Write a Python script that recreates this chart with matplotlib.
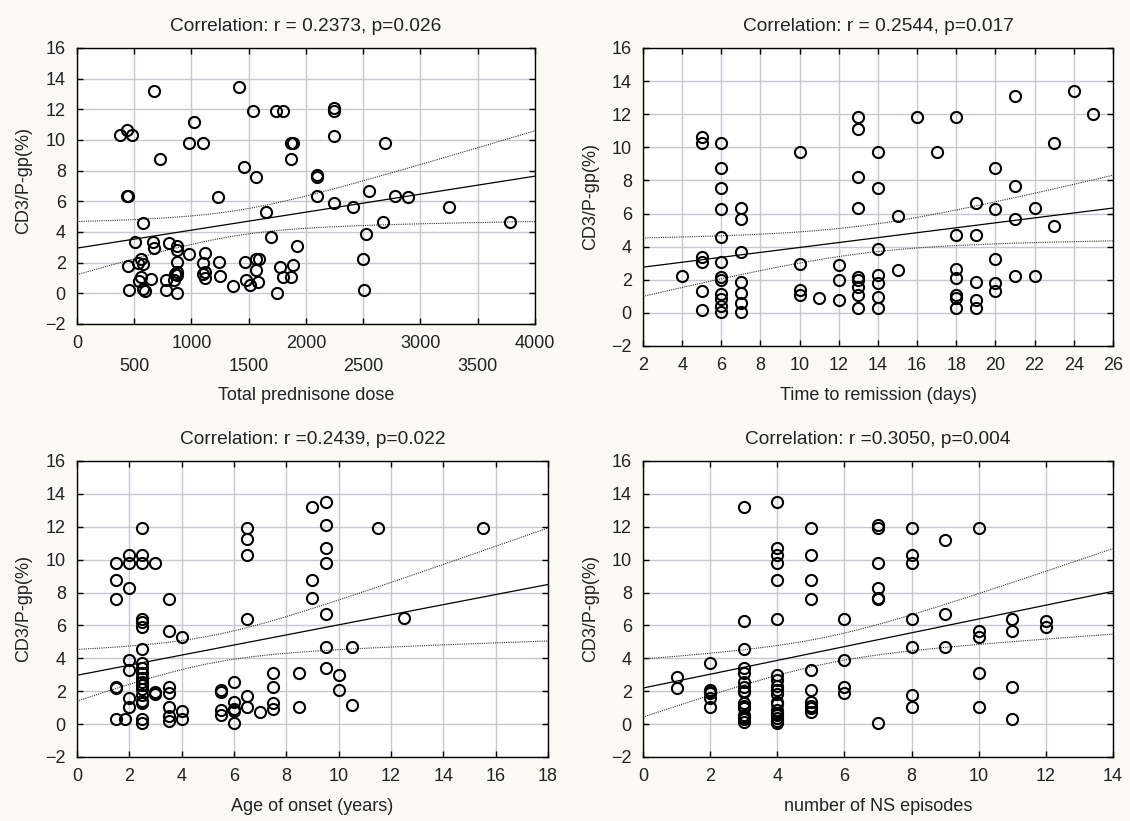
#!/usr/bin/python3
# four scatter plots of CD3/P-gp(%) against clinical variables, with fit and 95% bands
from matplotlib import pyplot as plt
import numpy as np

plt.rcParams['font.family'] = ['Liberation Sans', 'DejaVu Sans']
plt.rcParams['font.size'] = 13

# panel 1: total prednisone dose
pred_dose = [675, 1418, 1537, 1738, 1796, 2242, 2247, 2247, 440, 376, 477, 1019,
             981, 1098, 1866, 1889, 2690, 725, 1866, 1456, 1561, 2093, 2096, 440,
             449, 1229, 2093, 2550, 2777, 2888, 2247, 2408, 3246, 1648,
             576, 2675, 3782, 2524, 507, 667, 672, 806, 870, 870, 1694, 1918,
             981, 1118, 556, 536, 579, 445, 876, 1103, 1240, 1467, 1561, 1590,
             1561, 1773, 1889, 2498, 1103, 1118, 1118, 870, 856, 876, 556, 544,
             649, 777, 850, 1252, 1479, 1511, 1578, 1796, 1869, 1360, 457, 573,
             594, 777, 870, 1747, 2507]
pred_cd3 = [13.16, 13.46, 11.87, 11.87, 11.87, 12.07, 11.87, 10.25, 10.67, 10.3, 10.3, 11.17,
            9.77, 9.77, 9.77, 9.77, 9.77, 8.79, 8.79, 8.26, 7.59, 7.69, 7.56, 6.36,
            6.36, 6.27, 6.36, 6.69, 6.36, 6.27, 5.86, 5.66, 5.66, 5.33,
            4.57, 4.66, 4.66, 3.85, 3.34, 3.34, 2.93, 3.26, 3.08, 2.82, 3.67, 3.08,
            2.56, 2.64, 2.23, 1.95, 1.88, 1.75, 2.03, 1.95, 2.03, 2.03, 2.23, 2.23,
            1.53, 1.73, 1.86, 2.23, 1.29, 1.40, 1.03, 1.40, 1.25, 1.22, 1.07, 0.81,
            0.94, 0.85, 0.85, 1.11, 0.85, 0.55, 0.72, 1.05, 1.05, 0.46, 0.24, 0.28,
            0.13, 0.24, 0.05, 0.05, 0.24]

# panel 2: time to remission (days)
remission_days = [4,
                  5, 5, 5, 5, 5, 5,
                  6, 6, 6, 6, 6, 6, 6, 6, 6, 6, 6, 6,
                  7, 7, 7, 7, 7, 7, 7,
                  10, 10, 10, 10,
                  11,
                  12, 12, 12,
                  13, 13, 13, 13, 13, 13, 13, 13, 13,
                  14, 14, 14, 14, 14, 14, 14,
                  15, 15,
                  16, 17,
                  18, 18, 18, 18, 18, 18, 18,
                  19, 19, 19, 19, 19,
                  20, 20, 20, 20, 20,
                  21, 21, 21, 21,
                  22, 22,
                  23, 23,
                  24, 25]
remission_cd3 = [2.25,
                 10.64, 10.24, 3.36, 3.07, 1.3, 0.18,
                 10.24, 8.75, 7.56, 6.27, 4.58, 3.07, 2.15, 1.99, 1.12, 0.84, 0.42, 0.08,
                 6.35, 5.65, 3.66, 1.87, 1.18, 0.6, 0.08,
                 9.74, 2.97, 1.38, 1.06,
                 0.88,
                 2.87, 1.97, 0.78,
                 11.85, 11.12, 8.23, 6.35, 2.17, 1.99, 1.58, 1.06, 0.28,
                 9.74, 7.56, 3.88, 2.27, 1.79, 0.96, 0.28,
                 5.88, 2.59,
                 11.85, 9.74,
                 11.85, 4.68, 2.67, 2.09, 1.06, 0.88, 0.28,
                 6.66, 4.68, 1.87, 0.78, 0.28,
                 8.75, 6.27, 3.27, 1.79, 1.3,
                 13.12, 7.66, 5.65, 2.25,
                 6.35, 2.25,
                 10.24, 5.27,
                 13.42, 12.03]

# panel 3: age of onset (years)
onset_age = [9.0, 9.5, 2.5, 6.5, 9.5, 11.5, 15.5, 6.5, 6.5, 9.5, 9.5, 2.0, 2.5,
             1.5, 2.0, 2.5, 3.0, 1.5, 2.0, 1.5, 3.5, 9.0, 9.0, 9.5, 12.5,
             2.5, 2.5, 2.5, 6.5, 3.5, 4.0, 2.5, 9.5, 10.5, 2.0, 2.0,
             2.5, 2.5, 2.5, 2.5, 2.5, 1.5, 1.5, 2.5, 2.5, 2.5, 2.5, 2.5,
             3.0, 3.0, 2.0, 2.0, 1.5, 1.85, 2.5, 2.5, 3.5, 3.5, 3.5, 3.5, 3.5,
             4.0, 4.0, 5.5, 5.5, 5.5, 5.5, 6.0, 6.0, 6.0, 6.0, 6.0, 6.5, 6.5,
             7.0, 7.5, 7.5, 7.5, 7.5, 8.5, 8.5, 9.5, 10.0, 10.0, 10.5]
onset_cd3 = [13.22, 13.53, 11.91, 11.91, 12.09, 11.91, 11.91, 11.24, 10.28, 10.69, 9.82, 10.28, 10.28,
             9.78, 9.78, 9.78, 9.78, 8.77, 8.3, 7.59, 7.59, 8.77, 7.69, 6.7, 6.45,
             6.39, 6.23, 5.89, 6.39, 5.68, 5.28, 4.57, 4.67, 4.67, 3.9, 3.27,
             3.7, 3.39, 3.09, 2.79, 2.58, 2.24, 2.18, 2.38, 2.12, 1.77, 1.43, 1.3,
             1.97, 1.83, 1.57, 1.06, 0.29, 0.29, 0.29, 0.05, 2.24, 1.87, 1.06, 0.49, 0.21,
             0.8, 0.29, 2.07, 1.97, 0.86, 0.55, 2.58, 1.36, 0.9, 0.81, 0.05, 1.73, 1.06,
             0.75, 3.09, 2.28, 1.26, 0.9, 3.09, 1.06, 3.39, 2.99, 2.07, 1.16]

# panel 4: number of NS episodes
ns_episodes = [3, 4, 5, 7, 7, 8, 10, 9, 4, 4, 4, 5, 8, 8, 7, 4, 5, 5, 7, 7, 7, 9,
               3, 4, 6, 8, 11, 11, 12, 12, 10, 10, 3, 8, 9, 6,
               1, 1, 2, 2, 2, 2, 2, 2,
               3, 3, 3, 3, 3, 3, 3, 3, 3, 3, 3, 3, 3,
               4, 4, 4, 4, 4, 4, 4, 4, 4, 4, 4, 4, 4,
               5, 5, 5, 5, 5, 5, 6, 6, 7, 8, 8, 10, 10, 11, 11]
ns_cd3 = [13.2, 13.51, 11.91, 12.09, 11.91, 11.91, 11.91, 11.2, 10.69, 10.29, 9.82, 10.29,
          10.29, 9.82, 9.82, 8.77, 8.77, 7.59, 8.3, 7.69, 7.59, 6.7,
          6.29, 6.39, 6.39, 6.39, 6.39, 5.68, 6.29, 5.89, 5.68, 5.28, 4.57, 4.67, 4.67, 3.9,
          2.86, 2.18, 3.7, 2.07, 1.87, 1.57, 1.06, 1.95,
          3.39, 3.09, 2.58, 2.24, 1.97, 1.3, 0.96, 0.55, 0.29, 0.15, 0.4, 1.1, 2.0,
          2.99, 2.68, 2.32, 2.07, 1.83, 1.36, 0.86, 0.55, 0.35, 0.05, 0.2, 0.7, 1.2,
          3.29, 2.07, 1.36, 1.1, 0.96, 0.75, 2.28, 1.87, 0.05, 1.77, 1.06, 3.09, 1.06, 2.28, 0.29]

titles = ["Correlation: r = 0.2373, p=0.026", "Correlation: r = 0.2544, p=0.017",
          "Correlation: r =0.2439, p=0.022", "Correlation: r =0.3050, p=0.004"]
xlabels = ["Total prednisone dose", "Time to remission (days)",
           "Age of onset (years)", "number of NS episodes"]
ylabel = "CD3/P-gp(%)"

T95 = 1.99  # t quantile, df ~ 85


def fit_band(x, y, xs):
    x = np.asarray(x, float)
    y = np.asarray(y, float)
    n = len(x)
    b, a = np.polyfit(x, y, 1)
    s = np.sqrt(np.sum((y - (a + b * x)) ** 2) / (n - 2))
    sxx = np.sum((x - x.mean()) ** 2)
    hw = T95 * s * np.sqrt(1.0 / n + (xs - x.mean()) ** 2 / sxx)
    return a + b * xs, hw


def panel(ax, x, y, xlim, xstep, title, xlabel):
    ax.set_facecolor('white')
    ax.set_xlim(*xlim)
    ax.set_ylim(-2, 16)
    ax.set_xticks(np.arange(xlim[0], xlim[1] + xstep / 2, xstep))
    ax.set_yticks(np.arange(-2, 17, 2))
    ax.grid(True, color='#c6c8d0', lw=1.0, zorder=0)
    ax.set_axisbelow(True)
    for sp in ax.spines.values():
        sp.set_color('black')
        sp.set_linewidth(1.0)
    ax.tick_params(direction='in', length=4, width=1, top=True, right=True,
                   pad=8, labelcolor='#222222')

    xs = np.linspace(xlim[0], xlim[1], 200)
    fit, hw = fit_band(x, y, xs)
    ax.plot(xs, fit, color='black', lw=0.9, zorder=2)
    ax.plot(xs, fit + hw, color='#333333', lw=0.8, ls=(0, (1, 1)), zorder=2)
    ax.plot(xs, fit - hw, color='#333333', lw=0.8, ls=(0, (1, 1)), zorder=2)
    ax.plot(x, y, 'o', ms=8, mfc='none', mec='black', mew=1.5, zorder=3)

    ax.set_title(title, fontsize=13.8, pad=12, color='#222222')
    ax.set_xlabel(xlabel, color='#222222')
    ax.set_ylabel(ylabel, color='#222222')


def main():
    fig = plt.figure(figsize=(11.3, 8.21), dpi=100, facecolor='#faf9f4')
    ax1 = fig.add_axes([0.0681, 0.6054, 0.4053, 0.3362])
    ax2 = fig.add_axes([0.5690, 0.5786, 0.4159, 0.3630])
    ax3 = fig.add_axes([0.0681, 0.0780, 0.4168, 0.3605])
    ax4 = fig.add_axes([0.5690, 0.0780, 0.4159, 0.3605])

    panel(ax1, pred_dose, pred_cd3, (0, 4000), 500, titles[0], xlabels[0])
    panel(ax2, remission_days, remission_cd3, (2, 26), 2, titles[1], xlabels[1])
    panel(ax3, onset_age, onset_cd3, (0, 18), 2, titles[2], xlabels[2])
    panel(ax4, ns_episodes, ns_cd3, (0, 14), 2, titles[3], xlabels[3])

    # staggered tick labels on the dose axis
    ticks = np.arange(0, 4001, 500)
    ax1.set_xticklabels([("%d" % t) if t % 1000 == 0 else ("\n%d" % t) for t in ticks])
    for lbl in ax1.get_xticklabels():
        lbl.set_linespacing(1.45)

    ax1.xaxis.set_label_coords(0.5, -0.228)
    ax2.xaxis.set_label_coords(0.5, -0.138)
    ax3.xaxis.set_label_coords(0.5, -0.139)
    ax4.xaxis.set_label_coords(0.5, -0.139)
    ax1.yaxis.set_label_coords(-0.098, 0.52)
    ax2.yaxis.set_label_coords(-0.094, 0.5)
    ax3.yaxis.set_label_coords(-0.0955, 0.5)
    ax4.yaxis.set_label_coords(-0.094, 0.5)

    fig.savefig('out.png', dpi=100, facecolor=fig.get_facecolor())


if __name__ == '__main__':
    main()
